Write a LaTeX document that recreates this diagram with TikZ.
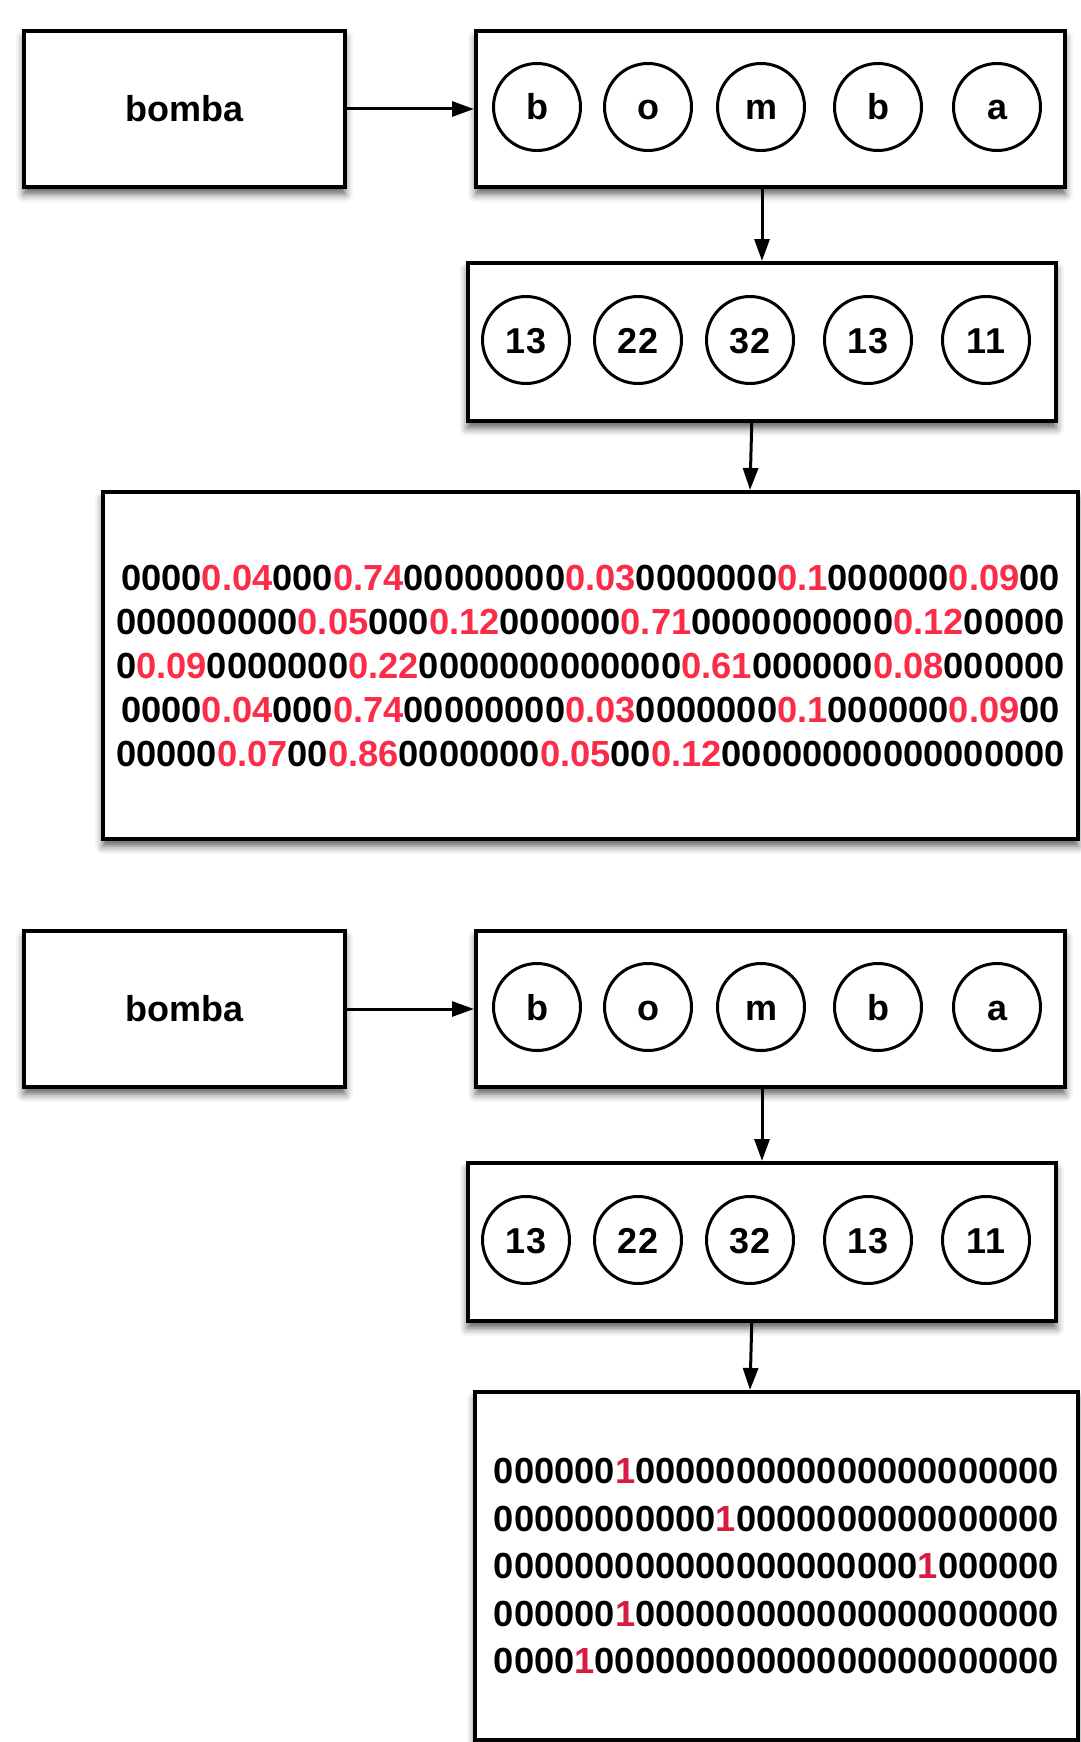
\documentclass[tikz,border=0pt]{standalone}
\usepackage{fontspec}
\setmainfont{Liberation Sans}
\usetikzlibrary{arrows.meta,shadows.blur}
\definecolor{redA}{RGB}{250,44,72}
\definecolor{redB}{RGB}{214,28,66}
\newcommand{\rdA}[1]{\textcolor{redA}{#1}}
\newcommand{\rdB}[1]{\textcolor{redB}{#1}}
\begin{document}
\begin{tikzpicture}[x=1pt,y=-1pt,
  box/.style={draw, line width=4pt, fill=white, rectangle, inner sep=0pt,
    blur shadow={shadow xshift=0pt, shadow yshift=-7pt, shadow blur radius=8pt, shadow opacity=65}},
  ball/.style={draw, circle, line width=3pt, minimum size=87pt, inner sep=0pt,
    text height=26pt, text depth=0pt,
    font=\fontsize{36}{40}\selectfont\bfseries},
  txt/.style={font=\fontsize{36}{40}\selectfont\bfseries},
  arr/.style={line width=3pt, -{Triangle[length=22pt,width=15pt]}}]
\useasboundingbox (0,0) rectangle (1081,1742);

% ---------- top section ----------
\node[box, txt, minimum width=321pt, minimum height=156pt] (A1) at (184.5,109) {bomba};
\node[box, minimum width=589pt, minimum height=156pt] (L1) at (770.5,109) {};
\node[ball] (l11) at (537,107) {b};
\node[ball] (l12) at (648,107) {o};
\node[ball] (l13) at (761,107) {m};
\node[ball] (l14) at (878,107) {b};
\node[ball] (l15) at (997,107) {a};

\node[box, minimum width=588.5pt, minimum height=158pt] (N1) at (761.75,342) {};
\node[ball] (n11) at (526,340) {13};
\node[ball] (n12) at (638,340) {22};
\node[ball] (n13) at (750,340) {32};
\node[ball] (n14) at (868,340) {13};
\node[ball] (n15) at (986,340) {11};

\node[box, minimum width=975pt, minimum height=347pt, align=center,
  font=\fontsize{36.3}{44}\selectfont\bfseries] (V1) at (590.5,665.5) {%
0000\rdA{0.04}000\rdA{0.74}00000000\rdA{0.03}0000000\rdA{0.1}000000\rdA{0.09}00\\
000000000\rdA{0.05}000\rdA{0.12}000000\rdA{0.71}0000000000\rdA{0.12}00000\\
0\rdA{0.09}0000000\rdA{0.22}0000000000000\rdA{0.61}000000\rdA{0.08}000000\\
0000\rdA{0.04}000\rdA{0.74}00000000\rdA{0.03}0000000\rdA{0.1}000000\rdA{0.09}00\\
00000\rdA{0.07}00\rdA{0.86}0000000\rdA{0.05}00\rdA{0.12}00000000000000000};

\draw[arr] (A1.east) -- (L1.west);
\draw[arr] ([xshift=-8.5pt]L1.south) -- ([xshift=0.25pt]N1.north);
\draw[arr] ([xshift=-10pt]N1.south) -- ([xshift=159.5pt]V1.north);

% ---------- bottom section ----------
\node[box, txt, minimum width=321pt, minimum height=156pt] (A2) at (184.5,1009) {bomba};
\node[box, minimum width=589pt, minimum height=156pt] (L2) at (770.5,1009) {};
\node[ball] (l21) at (537,1007) {b};
\node[ball] (l22) at (648,1007) {o};
\node[ball] (l23) at (761,1007) {m};
\node[ball] (l24) at (878,1007) {b};
\node[ball] (l25) at (997,1007) {a};

\node[box, minimum width=588.5pt, minimum height=158pt] (N2) at (761.75,1242) {};
\node[ball] (n21) at (526,1240) {13};
\node[ball] (n22) at (638,1240) {22};
\node[ball] (n23) at (750,1240) {32};
\node[ball] (n24) at (868,1240) {13};
\node[ball] (n25) at (986,1240) {11};

\node[box, minimum width=603pt, minimum height=348pt, align=center,
  font=\fontsize{36.3}{47.5}\selectfont\bfseries] (O2) at (776.5,1566) {%
000000\rdB{1}000000000000000000000\\
00000000000\rdB{1}0000000000000000\\
000000000000000000000\rdB{1}000000\\
000000\rdB{1}000000000000000000000\\
0000\rdB{1}00000000000000000000000};

\draw[arr] (A2.east) -- (L2.west);
\draw[arr] ([xshift=-8.5pt]L2.south) -- ([xshift=0.25pt]N2.north);
\draw[arr] ([xshift=-10pt]N2.south) -- ([xshift=-26.5pt]O2.north);
\end{tikzpicture}
\end{document}
